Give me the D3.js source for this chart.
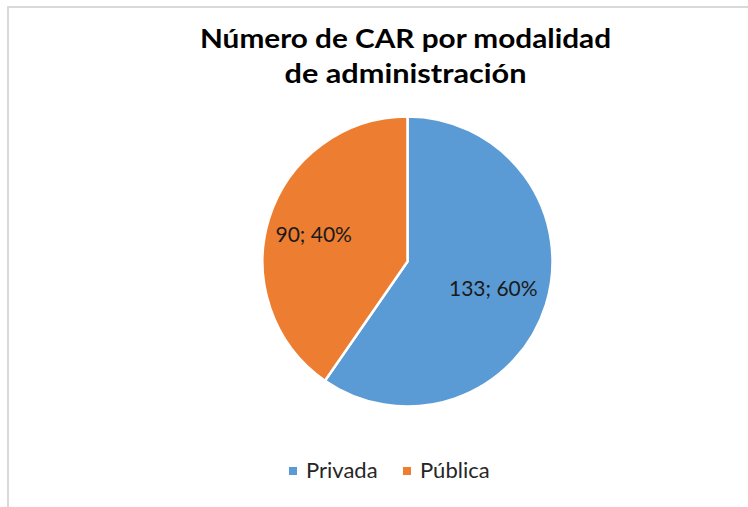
<!DOCTYPE html>
<html>
<head>
<meta charset="utf-8">
<script src="https://cdn.jsdelivr.net/npm/d3@7"></script>
<style>
  body { margin: 0; background: #fff; }
  text { font-family: Lato, "Open Sans", sans-serif; }
</style>
</head>
<body>
<svg id="chart" width="748" height="507"></svg>
<script>
// chart data
var categories = ['Privada', 'Pública'];
var values = [133, 90];
var percents = ['60%', '40%'];
var colors = ['#5B9BD5', '#ED7D31'];
var titleLines = ['Número de CAR por modalidad', 'de administración'];

var svg = d3.select('#chart');
var cx = 407.5, cy = 261.5, radius = 145;

// frame (only top and left edges show in the crop)
svg.append('line').attr('x1', 8).attr('y1', 7).attr('x2', 748).attr('y2', 7)
  .attr('stroke', '#d9d9d9').attr('stroke-width', 2);
svg.append('line').attr('x1', 8).attr('y1', 6).attr('x2', 8).attr('y2', 507)
  .attr('stroke', '#d9d9d9').attr('stroke-width', 2);

// title, stretched a bit to the width of the original face
var titleWidths = [411, 242];
svg.selectAll('text.title')
  .data(titleLines)
  .enter().append('text')
  .attr('class', 'title')
  .attr('x', 405.5)
  .attr('y', function(d, i) { return 48 + i * 34.5; })
  .attr('text-anchor', 'middle')
  .attr('textLength', function(d, i) { return titleWidths[i]; })
  .attr('lengthAdjust', 'spacingAndGlyphs')
  .style('font-size', '27px')
  .style('font-weight', 'bold')
  .style('fill', '#000')
  .text(function(d) { return d; });

var pie = d3.pie().sort(null).value(function(d) { return d; });
var arcs = pie(values);
var arc = d3.arc().innerRadius(0).outerRadius(radius);
var labelArc = d3.arc().innerRadius(radius * 0.62).outerRadius(radius * 0.62);

var g = svg.append('g').attr('transform', 'translate(' + cx + ',' + cy + ')');

g.selectAll('path')
  .data(arcs)
  .enter().append('path')
  .attr('d', arc)
  .attr('fill', function(d, i) { return colors[i]; })
  .attr('stroke', '#fff')
  .attr('stroke-width', 2.5)
  .attr('stroke-linejoin', 'round');

g.selectAll('text.label')
  .data(arcs)
  .enter().append('text')
  .attr('class', 'label')
  .attr('transform', function(d, i) {
    var c = labelArc.centroid(d);
    if (i === 1) c[0] -= 8;   // excel pushes this one a little further left
    return 'translate(' + c + ')';
  })
  .attr('text-anchor', 'middle')
  .attr('dy', '0.35em')
  .style('font-size', '21px')
  .style('fill', '#1a1a1a')
  .text(function(d, i) { return values[i] + '; ' + percents[i]; });

// legend
var legendX = [289, 403];
var legend = svg.selectAll('g.legend')
  .data(categories)
  .enter().append('g')
  .attr('class', 'legend')
  .attr('transform', function(d, i) { return 'translate(' + legendX[i] + ',467)'; });

legend.append('rect')
  .attr('width', 8).attr('height', 8)
  .attr('fill', function(d, i) { return colors[i]; });

legend.append('text')
  .attr('x', 17).attr('y', 11)
  .style('font-size', '22px')
  .style('fill', '#262626')
  .text(function(d) { return d; });
</script>
</body>
</html>
